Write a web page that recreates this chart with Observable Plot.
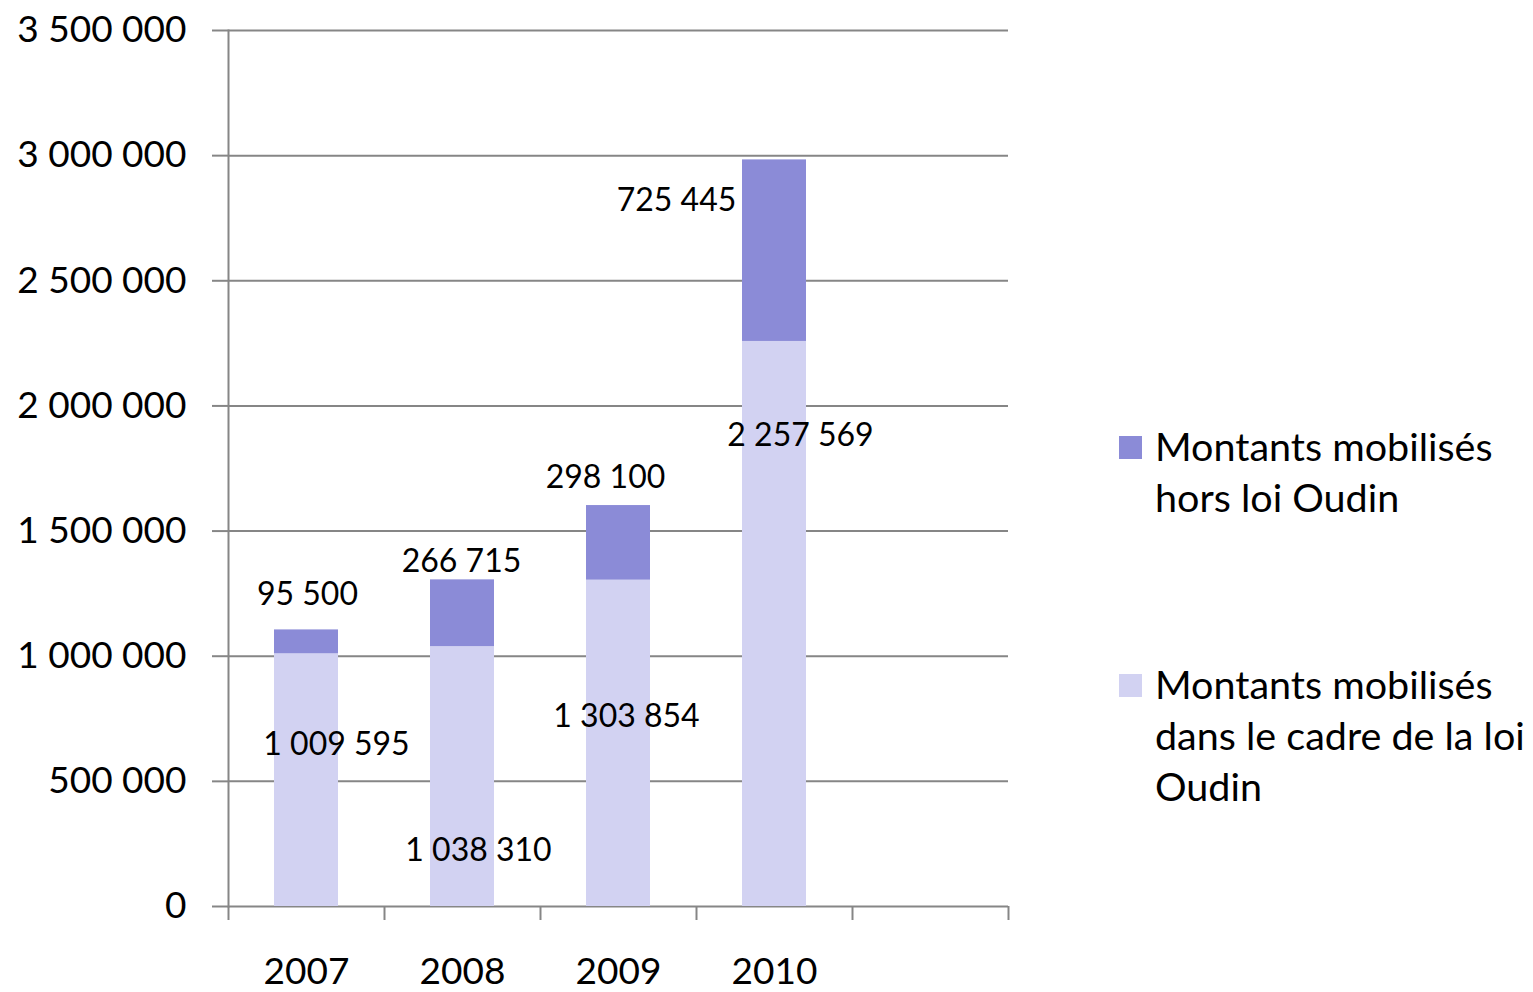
<!DOCTYPE html>
<html><head><meta charset="utf-8">
<script src="https://cdn.jsdelivr.net/npm/d3@7"></script>
<script src="https://cdn.jsdelivr.net/npm/@observablehq/plot@0.6"></script>
<style>
body{margin:0;background:#fff;font-family:Lato,sans-serif;}
#wrap{position:relative;width:1533px;height:992px;}
.lg{position:absolute;font-size:39.5px;color:#000;white-space:nowrap;line-height:51px;}
.sw{position:absolute;width:23px;height:23px;}
</style></head>
<body><div id="wrap"></div>
<script>
const years = ["2007", "2008", "2009", "2010"];
const slots = ["2007", "2008", "2009", "2010", ""];
const seriesNames = ["Montants mobilisés dans le cadre de la loi Oudin", "Montants mobilisés hors loi Oudin"];
const dansLoiOudin = [1009595, 1038310, 1303854, 2257569];
const horsLoiOudin = [95500, 266715, 298100, 725445];
const yTicks = [0, 500000, 1000000, 1500000, 2000000, 2500000, 3000000, 3500000];
const colors = ["#D2D2F2", "#8B8BD7"];
// pixel nudges of the data labels (as placed in the original chart)
const nudgeDans = [[30, -35], [16, 74], [8, -27], [26, -188]];
const nudgeHors = [[1, -47], [-1, -51], [-13, -65], [-98, -50]];

const fmt = d3.formatLocale({decimal: ",", thousands: " ", grouping: [3], currency: ["", ""]}).format(",d");
const grid = "#868686";

const rows = [];
years.forEach((y, i) => {
  rows.push({year: y, series: seriesNames[0], y1: 0, y2: dansLoiOudin[i], v: dansLoiOudin[i], nudge: nudgeDans[i]});
  rows.push({year: y, series: seriesNames[1], y1: dansLoiOudin[i], y2: dansLoiOudin[i] + horsLoiOudin[i], v: horsLoiOudin[i], nudge: nudgeHors[i]});
});

const W = 1533, H = 992, mL = 228, mR = 525, mT = 30, mB = 86;
const half = (W - mL - mR) / slots.length / 2;
const pi = 1 - 64 / 156;

const labelMarks = rows.map(r => Plot.text([r], {
  x: "year", y: d => (d.y1 + d.y2) / 2, text: d => fmt(d.v),
  dx: r.nudge[0], dy: r.nudge[1], fontSize: 32, fill: "#000"
}));

const chart = Plot.plot({
  width: W, height: H,
  marginLeft: mL, marginRight: mR, marginTop: mT, marginBottom: mB,
  style: {fontFamily: "Lato, sans-serif", fontSize: "37px", color: "#000", background: "#fff"},
  x: {type: "band", domain: slots, paddingInner: pi, paddingOuter: pi / 2},
  y: {domain: [0, 3500000]},
  color: {domain: seriesNames, range: colors},
  marks: [
    Plot.gridY(yTicks, {stroke: grid, strokeOpacity: 1, strokeWidth: 2}),
    Plot.axisY(yTicks, {tickSize: 16, tickPadding: 26, stroke: grid, strokeWidth: 2, tickFormat: fmt, fontSize: 37, fill: "#000", label: null}),
    Plot.axisX(slots, {tickSize: 14, text: null, dx: -half, stroke: grid, strokeWidth: 2, label: null}),
    Plot.axisX([""], {tickSize: 14, text: null, dx: half, stroke: grid, strokeWidth: 2, label: null}),
    Plot.axisX(years, {tickSize: 0, tickPadding: 51, fontSize: 37, fill: "#000", label: null}),
    Plot.barY(rows, {x: "year", y1: "y1", y2: "y2", fill: "series"}),
    Plot.frame({anchor: "left", stroke: grid, strokeWidth: 2}),
    ...labelMarks
  ]
});
const wrap = document.getElementById("wrap");
wrap.appendChild(chart);

const legendItems = [
  {color: colors[1], lines: ["Montants mobilisés", "hors loi Oudin"], top: 436},
  {color: colors[0], lines: ["Montants mobilisés", "dans le cadre de la loi", "Oudin"], top: 674}
];
legendItems.forEach(it => {
  const sw = document.createElement("div");
  sw.className = "sw"; sw.style.left = "1119px"; sw.style.top = it.top + "px"; sw.style.background = it.color;
  wrap.appendChild(sw);
  const t = document.createElement("div");
  t.className = "lg"; t.style.left = "1155px"; t.style.top = (it.top - 16) + "px";
  t.innerHTML = it.lines.join("<br>");
  wrap.appendChild(t);
});
</script></body></html>
